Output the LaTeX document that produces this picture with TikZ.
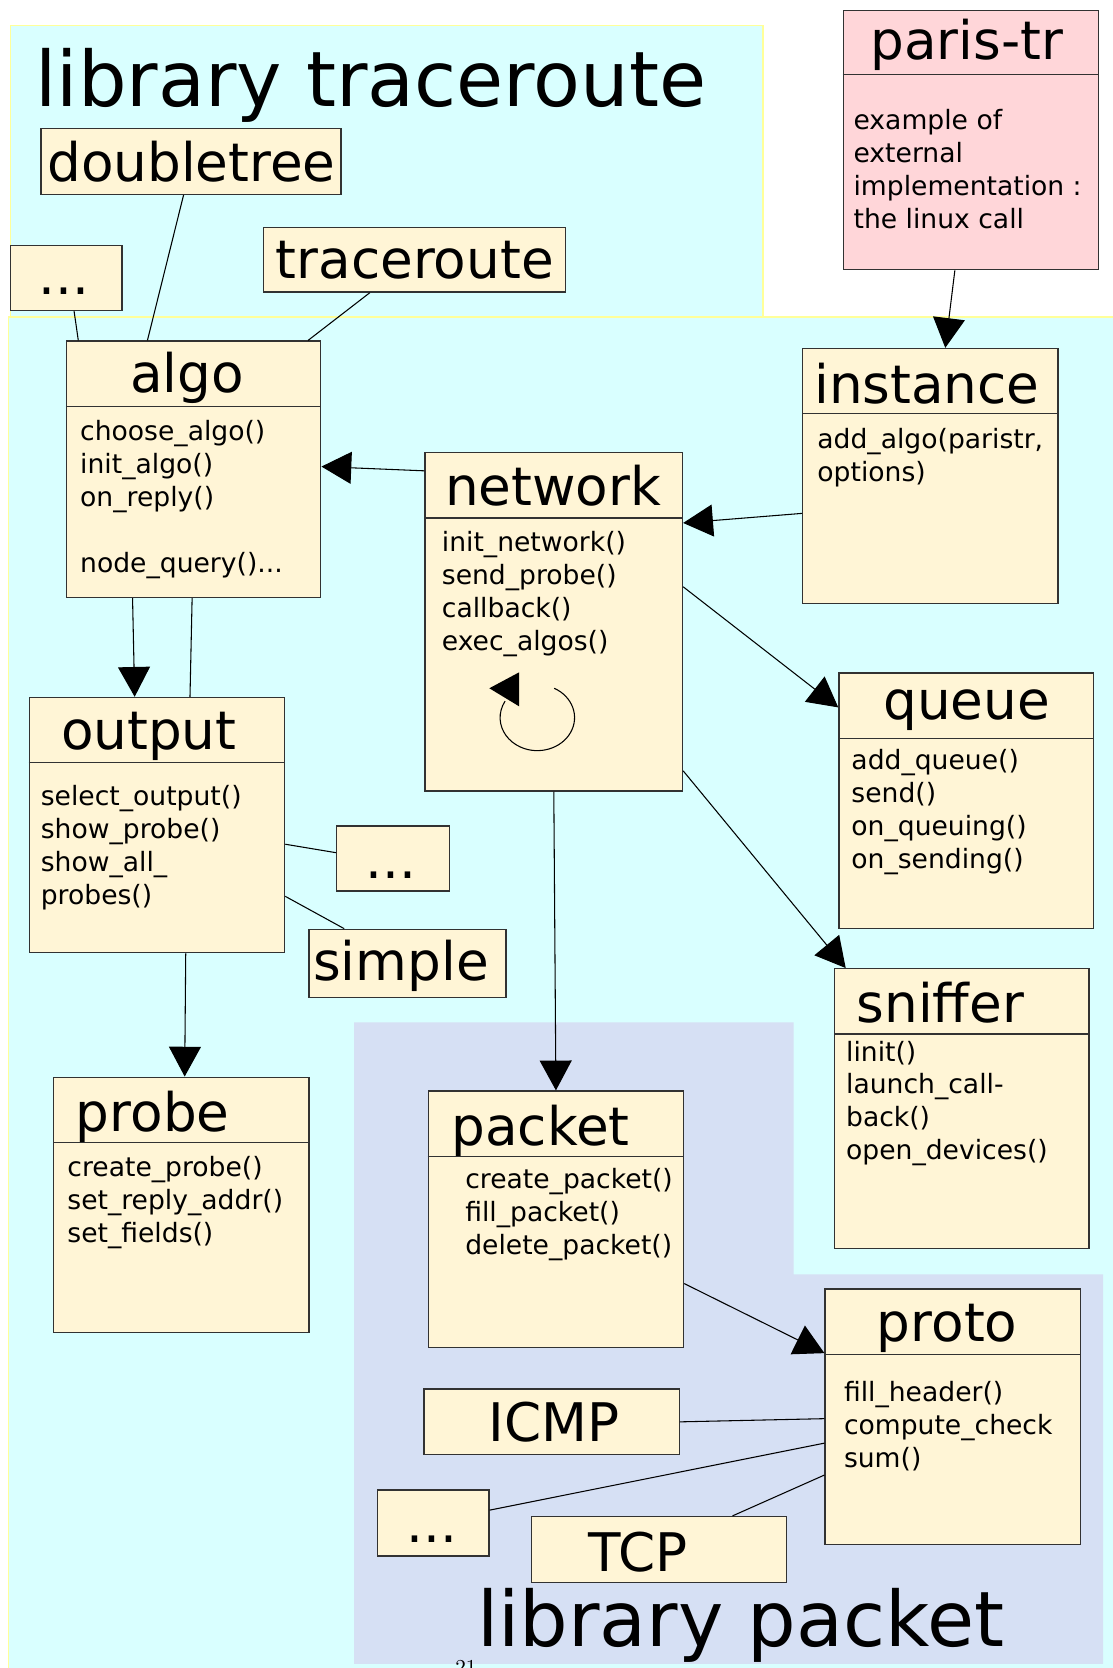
\documentclass[tikz,border=0pt]{standalone}
\usepackage{fontspec}
\newfontfamily\dejavu{DejaVu Sans}
\usepackage{tikz}
\usepackage{xcolor}
\usetikzlibrary{arrows.meta, positioning}
\definecolor{libcyan}{RGB}{217,255,255}
\definecolor{libyellow}{RGB}{255,255,153}
\definecolor{pktblue}{RGB}{214,224,244}
\definecolor{clscream}{RGB}{255,245,214}
\definecolor{extpink}{RGB}{255,214,217}
\definecolor{clsline}{RGB}{50,50,50}
\tikzstyle{region} = [fill=libcyan, draw=libyellow, line width=0.8pt]
\tikzstyle{cls} = [draw=clsline, fill=clscream, line width=0.6pt, inner sep=0pt, anchor=north west]
\tikzstyle{hdr} = [draw=clsline, line width=0.6pt]
\tikzstyle{clstitle} = [font=\dejavu\fontsize{25}{30}\selectfont, inner sep=0pt, anchor=base west]
\tikzstyle{clsbody} = [font=\dejavu\fontsize{12.5}{15.5}\selectfont, inner sep=0pt, anchor=north west, align=left]
\tikzstyle{libtitle} = [font=\dejavu\fontsize{36}{43}\selectfont, inner sep=0pt, anchor=base west]
\tikzstyle{arrow} = [line width=0.5pt, -{Triangle[length=14pt, width=15pt]}]
\tikzstyle{link} = [line width=0.5pt]

\begin{document}
\begin{tikzpicture}[x=0.5pt, y=-0.5pt]
        \useasboundingbox (0,0) rectangle (1046,1568);

        % Zones des librairies
        \draw[region] (10,24) rectangle (717,300);
        \draw[region] (8,298) rectangle (1060,1580);
        \fill[pktblue] (333,961) -- (746,961) -- (746,1198) -- (1037,1198) -- (1037,1564) -- (333,1564) -- cycle;
        \node[libtitle] (libtr) at (33,100) {library traceroute};
        \node[libtitle] (libpkt) at (448,1548) {library packet};

        % Implementation externe
        \node[cls, fill=extpink, minimum width=120pt, minimum height=122pt] (paristr) at (792,9) {};
        \draw[hdr] ([yshift=-30.5pt]paristr.north west) -- ([yshift=-30.5pt]paristr.north east);
        \node[clstitle] (paristrTitle) at (818,56) {paris-tr};
        \node[clsbody] (paristrBody) at (802,102) {example of\\external\\implementation :\\the linux call};

        % Algorithmes
        \node[cls, minimum width=141pt, minimum height=31pt] (doubletree) at (38,120) {};
        \node[clstitle] (doubletreeTitle) at (44,171) {doubletree};
        \node[cls, minimum width=52.5pt, minimum height=30.5pt] (dotsAlgo) at (9,230) {};
        \node[clstitle] (dotsAlgoTitle) at (36,277) {...};
        \node[cls, minimum width=142pt, minimum height=30.5pt] (traceroute) at (247,213) {};
        \node[clstitle] (tracerouteTitle) at (259,262) {traceroute};

        % Classe algo
        \node[cls, minimum width=119.5pt, minimum height=120.5pt] (algo) at (62,320) {};
        \draw[hdr] ([yshift=-31pt]algo.north west) -- ([yshift=-31pt]algo.north east);
        \node[clstitle] (algoTitle) at (122,369) {algo};
        \node[clsbody] (algoBody) at (75,395) {choose\_algo()\\init\_algo()\\on\_reply()\\[15.5pt]node\_query()...};

        % Classe network
        \node[cls, minimum width=121pt, minimum height=159pt] (network) at (399,425) {};
        \draw[hdr] ([yshift=-31pt]network.north west) -- ([yshift=-31pt]network.north east);
        \node[clstitle] (networkTitle) at (418,475) {network};
        \node[clsbody] (networkBody) at (415,499) {init\_network()\\send\_probe()\\callback()\\exec\_algos()};
        \draw[link] (521,647) arc[start angle=-63, end angle=210, x radius=35, y radius=31];
        \fill (460,647) -- (488,632) -- (488,664) -- cycle;

        % Classe instance
        \node[cls, minimum width=120pt, minimum height=120pt] (instance) at (754,327) {};
        \draw[hdr] ([yshift=-31pt]instance.north west) -- ([yshift=-31pt]instance.north east);
        \node[clstitle] (instanceTitle) at (765,379) {instance};
        \node[clsbody] (instanceBody) at (768,402) {add\_algo(paristr,\\options)};

        % Classe queue
        \node[cls, minimum width=119.5pt, minimum height=120pt] (queue) at (788,632) {};
        \draw[hdr] ([yshift=-31pt]queue.north west) -- ([yshift=-31pt]queue.north east);
        \node[clstitle] (queueTitle) at (830,676) {queue};
        \node[clsbody] (queueBody) at (800,704) {add\_queue()\\send()\\on\_queuing()\\on\_sending()};

        % Classe output
        \node[cls, minimum width=120pt, minimum height=120pt] (output) at (27,655) {};
        \draw[hdr] ([yshift=-31pt]output.north west) -- ([yshift=-31pt]output.north east);
        \node[clstitle] (outputTitle) at (57,705) {output};
        \node[clsbody] (outputBody) at (38,738) {select\_output()\\show\_probe()\\show\_all\_\\probes()};
        \node[cls, minimum width=53pt, minimum height=30.5pt] (dotsOutput) at (316,776) {};
        \node[clstitle] (dotsOutputTitle) at (343,826) {...};
        \node[cls, minimum width=92.5pt, minimum height=32pt] (simple) at (290,873) {};
        \node[clstitle] (simpleTitle) at (294,922) {simple};

        % Classe sniffer
        \node[cls, minimum width=119.5pt, minimum height=131.5pt] (sniffer) at (784,910) {};
        \draw[hdr] ([yshift=-31pt]sniffer.north west) -- ([yshift=-31pt]sniffer.north east);
        \node[clstitle] (snifferTitle) at (805,961) {sniffer};
        \node[clsbody] (snifferBody) at (795,978) {linit()\\launch\_call-\\back()\\open\_devices()};

        % Classe probe
        \node[cls, minimum width=120pt, minimum height=120pt] (probe) at (50,1012) {};
        \draw[hdr] ([yshift=-31pt]probe.north west) -- ([yshift=-31pt]probe.north east);
        \node[clstitle] (probeTitle) at (71,1064) {probe};
        \node[clsbody] (probeBody) at (63,1087) {create\_probe()\\set\_reply\_addr()\\set\_fields()};

        % Classe packet
        \node[cls, minimum width=120pt, minimum height=120.5pt] (packet) at (402,1025) {};
        \draw[hdr] ([yshift=-31pt]packet.north west) -- ([yshift=-31pt]packet.north east);
        \node[clstitle] (packetTitle) at (424,1077) {packet};
        \node[clsbody] (packetBody) at (437,1098) {create\_packet()\\fill\_packet()\\delete\_packet()};

        % Classe proto et protocoles
        \node[cls, minimum width=120pt, minimum height=120pt] (proto) at (775,1211) {};
        \draw[hdr] ([yshift=-31pt]proto.north west) -- ([yshift=-31pt]proto.north east);
        \node[clstitle] (protoTitle) at (824,1261) {proto};
        \node[clsbody] (protoBody) at (793,1298) {fill\_header()\\compute\_check\\sum()};
        \node[cls, minimum width=120pt, minimum height=31pt] (icmp) at (398,1305) {};
        \node[clstitle] (icmpTitle) at (459,1355) {ICMP};
        \node[cls, minimum width=52.5pt, minimum height=31pt] (dotsProto) at (354,1400) {};
        \node[clstitle] (dotsProtoTitle) at (382,1450) {...};
        \node[cls, minimum width=120pt, minimum height=31pt] (tcp) at (499,1425) {};
        \node[clstitle] (tcpTitle) at (553,1477) {TCP};

        % Liens
        \draw[arrow] ([xshift=-7.5pt]paristr.south) -- ([xshift=7pt]instance.north);
        \draw[link] ([xshift=-3.5pt]doubletree.south) -- ([xshift=-21.75pt]algo.north);
        \draw[link] ([xshift=3.75pt]dotsAlgo.south) -- ([xshift=-54.25pt]algo.north);
        \draw[link] ([xshift=-21pt]traceroute.south) -- ([xshift=53.75pt]algo.north);
        \draw[arrow] ([yshift=71pt]network.west) -- ([yshift=1.25pt]algo.east);
        \draw[arrow] ([yshift=-17.5pt]instance.west) -- ([yshift=46.5pt]network.east);
        \draw[arrow] ([yshift=16.5pt]network.east) -- ([yshift=-16.5pt]queue.north west);
        \draw[arrow] ([yshift=-70pt]network.east) -- ([xshift=5.5pt]sniffer.north west);
        \draw[arrow] (network.south) -- (packet.north);
        \draw[arrow] ([xshift=-28.75pt]algo.south) -- ([xshift=-10.5pt]output.north);
        \draw[link] ([xshift=-0.75pt]algo.south) -- ([xshift=15.5pt]output.north);
        \draw[link] ([yshift=-9pt]output.east) -- ([yshift=2.75pt]dotsOutput.west);
        \draw[link] ([yshift=-33.5pt]output.east) -- ([xshift=-29.75pt]simple.north);
        \draw[arrow] ([xshift=13.5pt]output.south) -- ([xshift=1.5pt]probe.north);
        \draw[arrow] ([yshift=-30.25pt]packet.east) -- ([yshift=-30.5pt]proto.north west);
        \draw[link] (icmp.east) -- ([yshift=-1pt]proto.west);
        \draw[link] ([yshift=6pt]dotsProto.east) -- ([yshift=-12.5pt]proto.west);
        \draw[link] ([xshift=34.5pt]tcp.north) -- ([yshift=-27.5pt]proto.west);

        % Numero de page
        \node[font=\fontsize{10}{12}\selectfont, inner sep=0pt, anchor=base] (pagenum) at (438,1574) {21};
\end{tikzpicture}
\end{document}
